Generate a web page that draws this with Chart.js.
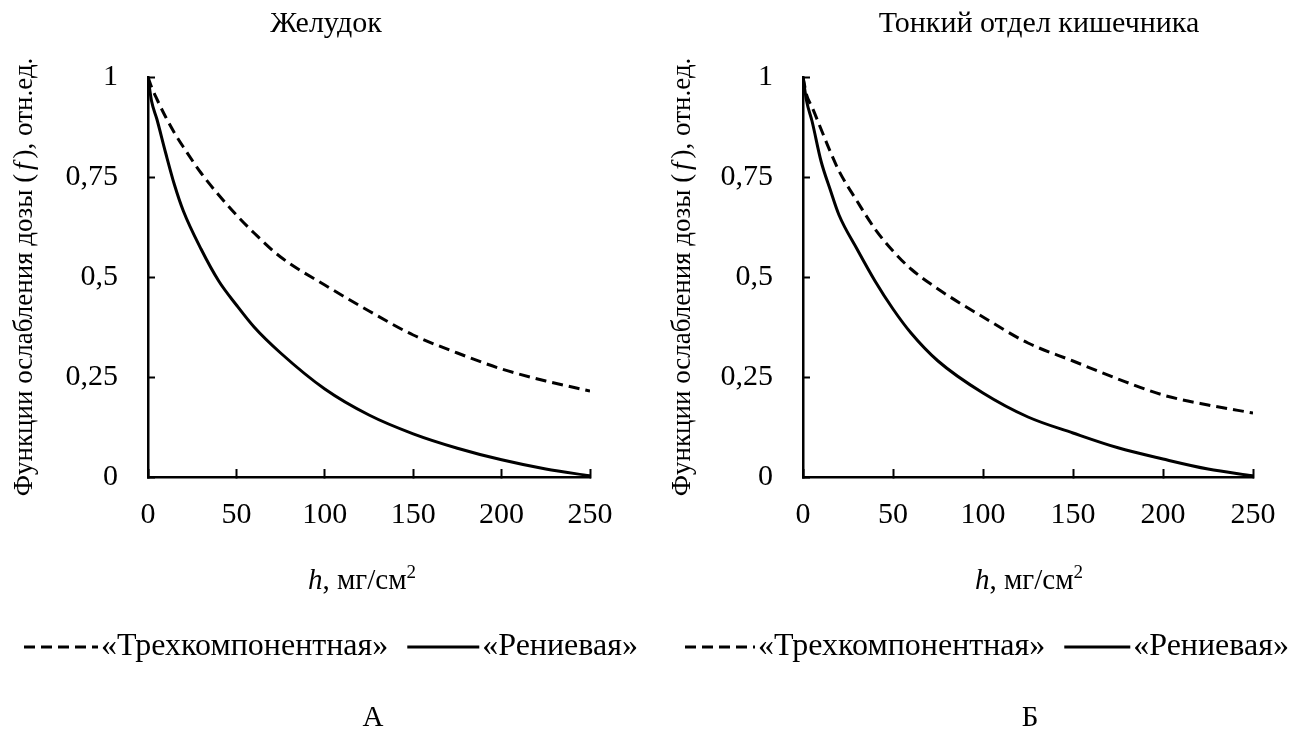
<!DOCTYPE html>
<html>
<head>
<meta charset="utf-8">
<script src="https://cdn.jsdelivr.net/npm/chart.js@4.4.1/dist/chart.umd.min.js"></script>
<style>
  html, body { margin: 0; padding: 0; background: #fff; }
  #wrap { position: relative; width: 1316px; height: 738px; }
  .panel { position: absolute; top: 0; width: 658px; height: 738px; }
  #pL { left: 0; }
  #pR { left: 658px; }
</style>
</head>
<body>
<div id="wrap">
  <div class="panel" id="pL"><canvas id="cL"></canvas></div>
  <div class="panel" id="pR"><canvas id="cR"></canvas></div>
</div>
<script>
// ---- data ----
const hValues = [0, 2, 5, 10, 15, 20, 30, 40, 50, 60, 75, 100, 125, 150, 175, 200, 225, 250];

// Желудок
const stomachThree = [1, 0.975, 0.945, 0.9, 0.86, 0.825, 0.76, 0.705, 0.655, 0.61, 0.55, 0.48, 0.415, 0.355, 0.31, 0.27, 0.24, 0.215];
const stomachRhenium = [1, 0.94, 0.895, 0.81, 0.73, 0.665, 0.57, 0.49, 0.43, 0.375, 0.31, 0.22, 0.155, 0.108, 0.072, 0.043, 0.02, 0.003];

// Тонкий отдел кишечника
const intestineThree = [1, 0.955, 0.925, 0.87, 0.815, 0.765, 0.69, 0.62, 0.565, 0.52, 0.47, 0.4, 0.335, 0.29, 0.245, 0.205, 0.18, 0.16];
const intestineRhenium = [1, 0.94, 0.89, 0.79, 0.72, 0.655, 0.57, 0.49, 0.42, 0.36, 0.29, 0.21, 0.15, 0.11, 0.073, 0.045, 0.02, 0.003];

const seriesNames = ['«Трехкомпонентная»', '«Рениевая»'];
const panelTitles = ['Желудок', 'Тонкий отдел кишечника'];
const panelLetters = ['А', 'Б'];
const xTicks = [0, 50, 100, 150, 200, 250];
const yTicks = [0, 0.25, 0.5, 0.75, 1];
const yTitleParts = ['Функции ослабления дозы (', 'f', '), отн.ед.'];
const xTitleParts = ['h', ', мг/см', '2'];

// ---- rendering ----
const FONT = "'Liberation Serif', 'Times New Roman', serif";
Chart.defaults.font.family = FONT;
Chart.defaults.color = '#000';

function pairs(ys) { return hValues.map((h, i) => ({ x: h, y: ys[i] })); }

const decorPlugin = {
  id: 'decor',
  afterLayout(chart, args, opts) {
    const tb = chart.titleBlock;
    if (tb) { tb.left = 0; tb.right = 2 * opts.titleCenter; }
    // centre the panel letter (subtitle) under the plot
    chart.boxes.forEach(b => {
      if (b !== tb && b.options && b.options.position === 'bottom' && typeof b.options.text === 'string') {
        b.left = 0; b.right = 2 * opts.letterCenter;
      }
    });
  },
  afterDraw(chart, args, opts) {
    const ctx = chart.ctx;
    const area = chart.chartArea;
    ctx.save();
    ctx.fillStyle = '#000';
    ctx.strokeStyle = '#000';
    // ---- y title (rotated, with italic f) ----
    const reg = '27px ' + FONT, ita = 'italic 27px ' + FONT;
    const segs = [[yTitleParts[0], reg, 0], [yTitleParts[1], ita, 4], [yTitleParts[2], reg, 4]];
    let total = 0;
    segs.forEach(s => { ctx.font = s[1]; total += ctx.measureText(s[0]).width + s[2]; });
    ctx.textBaseline = 'middle';
    ctx.textAlign = 'left';
    ctx.translate(opts.yTitleX, (area.top + area.bottom) / 2);
    ctx.rotate(-Math.PI / 2);
    let x = -total / 2;
    segs.forEach(s => { ctx.font = s[1]; x += s[2]; ctx.fillText(s[0], x, 0); x += ctx.measureText(s[0]).width; });
    ctx.setTransform(1, 0, 0, 1, 0, 0);
    // ---- x title ----
    ctx.textBaseline = 'alphabetic';
    const xs = [[xTitleParts[0], 'italic 29px ' + FONT, 0], [xTitleParts[1], '29px ' + FONT, 0], [xTitleParts[2], '19px ' + FONT, -11]];
    let tw = 0;
    xs.forEach(s => { ctx.font = s[1]; tw += ctx.measureText(s[0]).width; });
    let cx = opts.xTitleCenter - tw / 2;
    xs.forEach(s => { ctx.font = s[1]; ctx.fillText(s[0], cx, opts.xTitleY + s[2]); cx += ctx.measureText(s[0]).width; });
    // ---- legend (styles taken from the datasets) ----
    ctx.font = '32px ' + FONT;
    ctx.textBaseline = 'middle';
    let lx = opts.legendX;
    const ly = opts.legendY;
    chart.data.datasets.forEach((ds, i) => {
      const len = opts.sampleLen[i];
      ctx.save();
      ctx.lineWidth = ds.borderWidth;
      ctx.setLineDash(ds.borderDash || []);
      ctx.beginPath();
      ctx.moveTo(lx, ly);
      ctx.lineTo(lx + len, ly);
      ctx.stroke();
      ctx.restore();
      lx += len + 3;
      ctx.fillText(ds.label, lx, ly);
      lx += ctx.measureText(ds.label).width + 19;
    });
    ctx.restore();
  }
};

function makeChart(id, idx, three, rhenium, yAxisWidth, rightPad, decor) {
  return new Chart(document.getElementById(id), {
    type: 'line',
    data: {
      datasets: [
        { label: seriesNames[0], data: pairs(three), borderColor: '#000', backgroundColor: 'rgba(0,0,0,0)',
          borderWidth: 3, borderDash: [11, 6], pointRadius: 0, cubicInterpolationMode: 'monotone' },
        { label: seriesNames[1], data: pairs(rhenium), borderColor: '#000', backgroundColor: 'rgba(0,0,0,0)',
          borderWidth: 3, pointRadius: 0, cubicInterpolationMode: 'monotone' }
      ]
    },
    options: {
      responsive: true,
      maintainAspectRatio: false,
      animation: false,
      layout: { padding: { left: 0, right: rightPad, top: 0, bottom: 2 } },
      scales: {
        x: {
          type: 'linear', min: xTicks[0], max: xTicks[xTicks.length - 1],
          afterBuildTicks: s => { s.ticks = xTicks.map(v => ({ value: v })); },
          afterFit: s => { s.height = 100; },
          grid: { drawOnChartArea: false, drawTicks: true, tickLength: -8, tickWidth: 2, color: '#000' },
          border: { display: true, color: '#000', width: 2.5 },
          ticks: { font: { size: 30 }, color: '#000', padding: 28, maxRotation: 0 }
        },
        y: {
          type: 'linear', min: 0, max: 1,
          afterBuildTicks: s => { s.ticks = yTicks.map(v => ({ value: v })); },
          afterFit: s => { s.width = yAxisWidth; },
          grid: { drawOnChartArea: false, drawTicks: true, tickLength: -7, tickWidth: 2, color: '#000' },
          border: { display: true, color: '#000', width: 2.5 },
          ticks: { font: { size: 30 }, color: '#000', padding: 37,
                   callback: v => String(v).replace('.', ',') }
        }
      },
      plugins: {
        title: { display: true, text: panelTitles[idx], font: { size: 30, weight: 'normal' }, color: '#000',
                 padding: { top: 6, bottom: 35 } },
        subtitle: { display: true, text: panelLetters[idx], position: 'bottom', font: { size: 29, weight: 'normal' },
                    color: '#000', padding: { top: 124.2, bottom: 0 } },
        legend: { display: false },
        tooltip: { enabled: false },
        decor: decor
      }
    },
    plugins: [decorPlugin]
  });
}

makeChart('cL', 0, stomachThree, stomachRhenium, 148, 68,
  { titleCenter: 326, letterCenter: 373, yTitleX: 25, xTitleY: 589, xTitleCenter: 362, legendX: 24, legendY: 647, sampleLen: [74, 72] });
makeChart('cR', 1, intestineThree, intestineRhenium, 145, 63,
  { titleCenter: 381, letterCenter: 372, yTitleX: 25, xTitleY: 589, xTitleCenter: 371, legendX: 27, legendY: 647, sampleLen: [70, 66] });
</script>
</body>
</html>
